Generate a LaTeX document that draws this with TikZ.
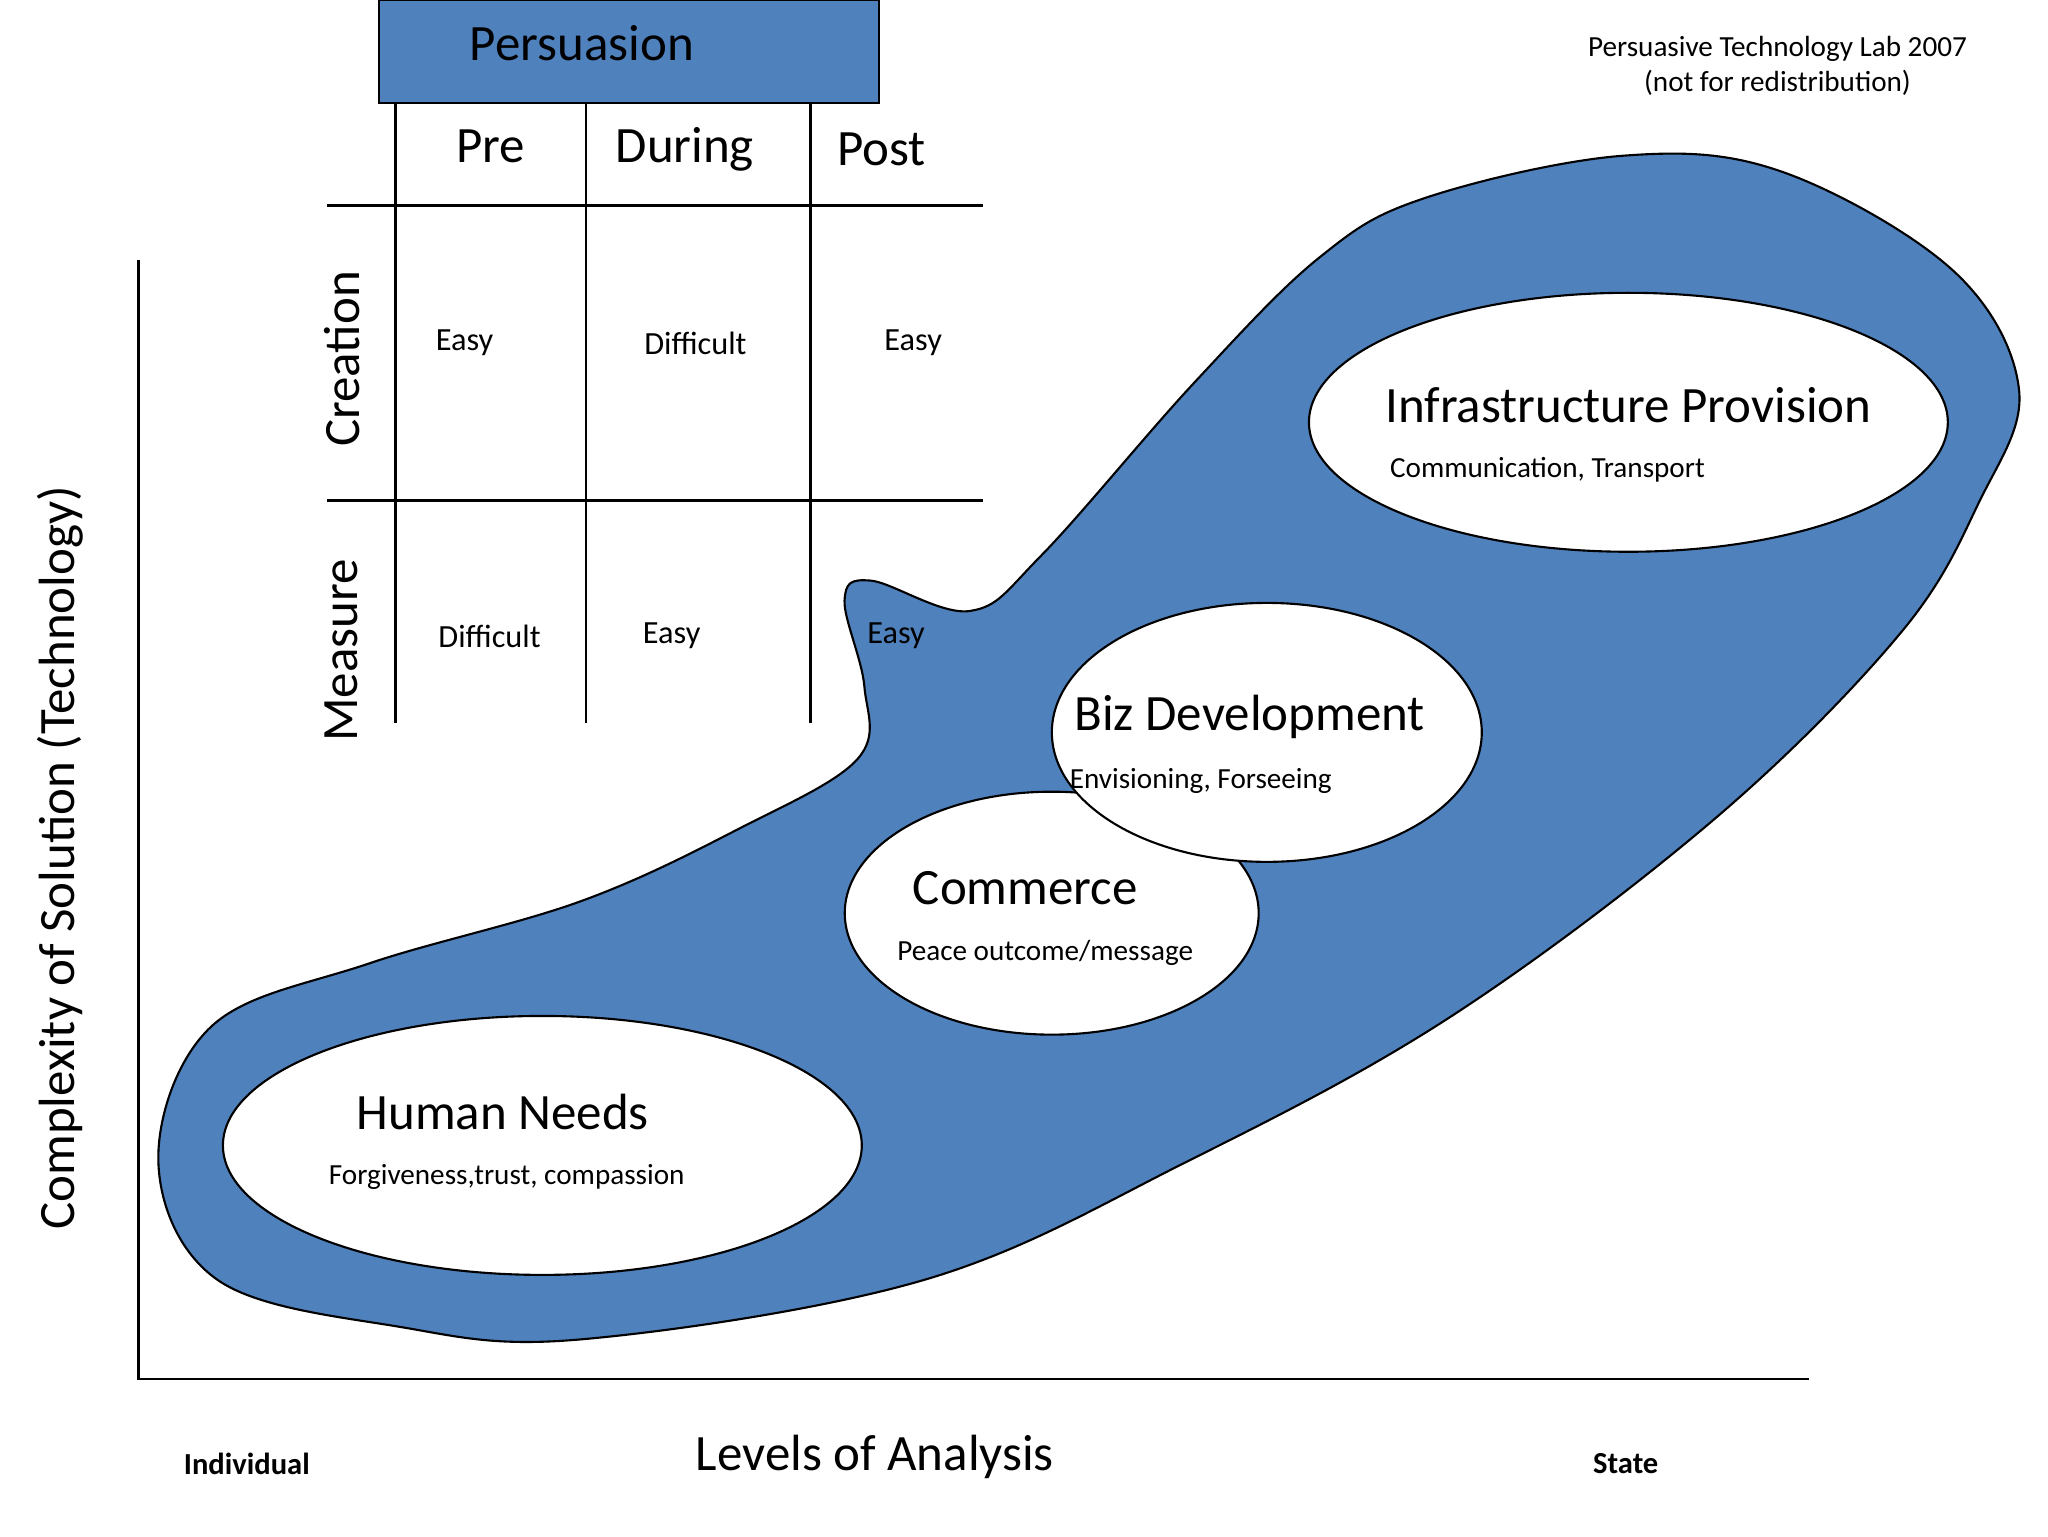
\documentclass[tikz,border=0pt]{standalone}
\usepackage{fontspec}
\setmainfont{Carlito}
\usetikzlibrary{shapes.geometric}
\definecolor{blobblue}{HTML}{4F81BD}
\tikzset{
  big/.style={font=\fontsize{14.5}{17}\selectfont},
  small/.style={font=\fontsize{8.3}{10}\selectfont},
  cell/.style={font=\fontsize{9.2}{11}\selectfont},
  bubble/.style={ellipse,draw=black,line width=0.6pt,fill=white},
}
\begin{document}
\begin{tikzpicture}[x=0.0132cm,y=-0.0132cm]
        \useasboundingbox (0,0) rectangle (1552,1164);

        % blob
        \draw[fill=blobblue,line width=0.6pt] plot[smooth cycle,tension=0.6] coordinates {
          (160,778) (280,730) (440,683) (560,628) (650,575) (655,520) (640,455)
          (660,440) (735,463) (790,420) (905,290) (1000,195) (1080,150) (1230,118)
          (1350,130) (1480,205) (1530,295) (1500,380) (1440,480) (1300,620)
          (1100,770) (900,880) (700,970) (440,1015) (300,1005) (165,970) (120,880)};

        % bubbles
        \node[bubble,minimum width=6.39cm,minimum height=2.59cm] (human) at (411,868) {};
        \node[bubble,minimum width=4.14cm,minimum height=2.43cm] (commerce) at (797,692) {};
        \node[bubble,minimum width=4.30cm,minimum height=2.59cm] (biz) at (960,555) {};
        \node[bubble,minimum width=6.39cm,minimum height=2.59cm] (infra) at (1234,320) {};

        \node[big] (humanT) at (381,843) {Human Needs};
        \node[small] (humanS) at (384,892) {Forgiveness,trust, compassion};
        \node[big] (commT) at (777,673) {Commerce};
        \node[small] (commS) at (792,722) {Peace outcome/message};
        \node[big] (bizT) at (947,543) {Biz Development};
        \node[small] (bizS) at (910,592) {Envisioning, Forseeing};
        \node[big] (infraT) at (1234,307) {Infrastructure Provision};
        \node[small,anchor=west] (infraS) at (1044,356) {Communication, Transport};

        % table
        \draw[fill=blobblue,line width=0.6pt] (287,0) rectangle (666,78);
        \node[big] (pers) at (441,33) {Persuasion};
        \foreach \x in {300,444,614} \draw[line width=0.8pt] (\x,78) -- (\x,548);
        \foreach \y in {156,379} \draw[line width=0.8pt] (248,\y) -- (745,\y);
        \node[big] (pre) at (372,111) {Pre};
        \node[big] (during) at (519,113) {During};
        \node[big] (post) at (668,113) {Post};
        \node[big,rotate=90] (creation) at (259,272) {Creation};
        \node[big,rotate=90] (measure) at (259,493) {Measure};
        \node[cell] (c1) at (352,260) {Easy};
        \node[cell] (c2) at (527,260) {Difficult};
        \node[cell] (c3) at (692,260) {Easy};
        \node[cell] (m1) at (371,482) {Difficult};
        \node[cell] (m2) at (509,482) {Easy};
        \node[cell] (m3) at (679,482) {Easy};

        % axes
        \coordinate (top) at (105,197);
        \coordinate (origin) at (105,1045);
        \coordinate (right) at (1371,1045);
        \draw[line width=0.8pt] (top) -- (origin) -- (right);
        \node[big,rotate=90] (ylab) at (46,650) {Complexity of Solution (Technology)};
        \node[big] (xlab) at (663,1104) {Levels of Analysis};
        \node[font=\fontsize{8.7}{11}\selectfont\bfseries] (indiv) at (187,1109) {Individual};
        \node[font=\fontsize{8.7}{11}\selectfont\bfseries] (state) at (1232,1109) {State};

        \node[small,align=center] (lab) at (1347,50) {Persuasive Technology Lab 2007\\(not for redistribution)};
\end{tikzpicture}
\end{document}
